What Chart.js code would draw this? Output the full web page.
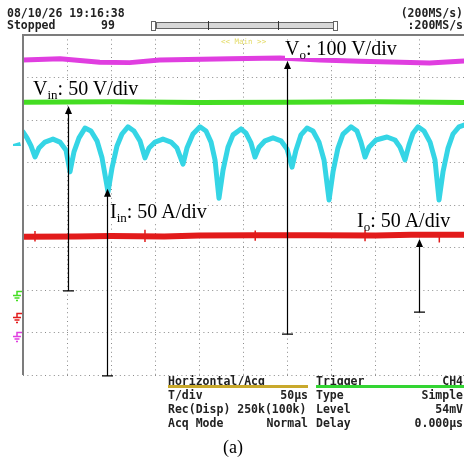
<!DOCTYPE html>
<html>
<head>
<meta charset="utf-8">
<script src="https://cdn.jsdelivr.net/npm/chart.js@4.4.0/dist/chart.umd.min.js"></script>
<style>
body { margin: 0; background: #fff; }
#wrap { position: relative; width: 464px; height: 462px; overflow: hidden; }
#scope { position: absolute; left: 0; top: 0; }
.t { position: absolute; font-family: "DejaVu Sans Mono", monospace; font-weight: bold; font-size: 11.5px; line-height: 12px; color: #222; white-space: pre; }
.lab { position: absolute; font-family: "Liberation Serif", "Times New Roman", serif; font-size: 20px; line-height: 15px; color: #000; background: #fff; white-space: nowrap; }
.lab span { font-size: 13px; position: relative; top: 4px; }
.bar { position: absolute; }
</style>
</head>
<body>
<div id="wrap">
  <canvas id="scope" width="464" height="462"></canvas>

  <div class="t" style="left:7px;top:7px">08/10/26 19:16:38</div>
  <div class="t" style="left:7px;top:19px">Stopped</div>
  <div class="t" style="left:101px;top:19px">99</div>
  <div class="t" style="right:1px;top:7px">(200MS/s)</div>
  <div class="t" style="right:1px;top:19px">:200MS/s</div>

  <div class="bar" style="left:151px;top:21px;width:3px;height:8px;border:1px solid #666;"></div>
  <div class="bar" style="left:156px;top:22px;width:176px;height:5px;border:1px solid #666;background:#d8d8d8;"></div>
  <div class="bar" style="left:333px;top:21px;width:3px;height:8px;border:1px solid #666;"></div>
  <div class="bar" style="left:208px;top:21px;width:1px;height:9px;background:#333;"></div>
  <div class="bar" style="left:278px;top:21px;width:1px;height:9px;background:#333;"></div>

  <div class="t" style="left:221px;top:36px;font-size:7.5px;font-weight:normal;color:#e4dc6a;">&lt;&lt; Main &gt;&gt;</div>

  <div class="lab" style="left:33px;top:81px">V<span>in</span>: 50 V/div</div>
  <div class="lab" style="left:285px;top:41px">V<span>o</span>: 100 V/div</div>
  <div class="lab" style="left:110px;top:204px">I<span>in</span>: 50 A/div</div>
  <div class="lab" style="left:357px;top:213px">I<span>o</span>: 50 A/div</div>

  <div class="t" style="left:168px;top:375px">Horizontal/Acq</div>
  <div class="bar" style="left:168px;top:385px;width:140px;height:3px;background:#c9a92c;"></div>
  <div class="t" style="left:168px;top:389px">T/div</div>
  <div class="t" style="right:156px;top:389px">50µs</div>
  <div class="t" style="left:168px;top:403px">Rec(Disp) 250k(100k)</div>
  <div class="t" style="left:168px;top:417px">Acq Mode</div>
  <div class="t" style="right:156px;top:417px">Normal</div>

  <div class="t" style="left:316px;top:375px">Trigger</div>
  <div class="bar" style="left:316px;top:385px;width:148px;height:3px;background:#33d533;"></div>
  <div class="t" style="right:1px;top:375px">CH4</div>
  <div class="t" style="left:316px;top:389px">Type</div>
  <div class="t" style="right:1px;top:389px">Simple</div>
  <div class="t" style="left:316px;top:403px">Level</div>
  <div class="t" style="right:1px;top:403px">54mV</div>
  <div class="t" style="left:316px;top:417px">Delay</div>
  <div class="t" style="right:1px;top:417px">0.000µs</div>

  <div class="lab" style="left:223px;top:438px;font-size:18px;line-height:18px;background:none">(a)</div>
</div>

<script>
// time in µs (50 µs/div, 10 div), levels in screen divisions (8 div)
var voT = [0, 42, 87, 121, 155, 235, 291, 337, 382, 428, 461, 500];
var voV = [7.41, 7.44, 7.36, 7.35, 7.41, 7.44, 7.46, 7.41, 7.38, 7.36, 7.34, 7.39];

var vinT = [0, 100, 200, 300, 400, 500];
var vinV = [6.42, 6.43, 6.41, 6.42, 6.43, 6.41];

var iinT = [0, 4.5, 9.1, 13.6, 18.1, 24.9, 34.0, 41.9, 48.8, 53.3, 57.8, 63.5, 70.3, 77.1, 83.9, 89.6, 96.4,
  100.9, 106.6, 112.2, 119.0, 125.8, 132.6, 138.3, 142.9, 149.7, 158.7, 167.8, 174.6, 181.4, 185.9, 192.7, 200.7, 207.5, 213.2, 217.7, 222.2,
  226.8, 232.4, 238.1, 247.2, 252.8, 258.5, 263.0, 267.6, 274.4, 283.5, 292.5, 299.3, 305.0, 309.5, 315.2, 322.0, 328.8, 335.6, 341.3, 347.0,
  351.5, 357.1, 362.8, 371.9, 378.7, 383.2, 387.8, 392.3, 400.2, 412.7, 421.8, 427.4, 433.1, 437.6, 442.2, 447.9, 454.7, 461.5, 467.1, 471.7,
  476.2, 481.9, 487.5, 494.3, 500];
var iinV = [5.72, 5.58, 5.39, 5.13, 5.34, 5.48, 5.55, 5.48, 5.29, 4.78, 5.25, 5.58, 5.81, 5.74, 5.51, 5.11, 4.31,
  4.87, 5.39, 5.67, 5.84, 5.74, 5.51, 5.11, 5.34, 5.48, 5.55, 5.48, 5.34, 4.96, 5.34, 5.67, 5.84, 5.74, 5.48, 5.06, 4.16,
  4.82, 5.36, 5.65, 5.79, 5.69, 5.46, 5.13, 5.36, 5.51, 5.58, 5.51, 5.32, 4.89, 5.29, 5.65, 5.81, 5.74, 5.48, 5.06, 4.12,
  4.78, 5.34, 5.67, 5.84, 5.74, 5.48, 5.13, 5.36, 5.53, 5.60, 5.53, 5.36, 5.06, 5.41, 5.69, 5.84, 5.74, 5.48, 5.06, 4.12,
  4.78, 5.34, 5.67, 5.84, 5.88];

var ioT = [0, 60, 100, 160, 200, 260, 330, 400, 440, 500];
var ioV = [3.25, 3.26, 3.27, 3.26, 3.28, 3.29, 3.29, 3.28, 3.30, 3.30];

// short switching spikes on the Io trace: time, low and high level
var spikeT = [13.6, 138.3, 263.3, 387.8, 472];
var spikeLo = [3.14, 3.13, 3.16, 3.15, 3.12];
var spikeHi = [3.39, 3.42, 3.40, 3.42, 3.36];

// ground markers (Vin, Io, Vo) and the Iin offset marker
var groundLevels = [1.98, 1.46, 1.01];
var groundColors = ["#44dd22", "#e21b1b", "#e03ee0"];
var iinMarker = 5.41;

// annotation arrows: time position, start and tip level
var arrowTimes = [51, 299, 95, 449];
var arrowFrom = [1.98, 0.96, -0.02, 1.48];
var arrowTo = [6.33, 7.39, 4.38, 3.2];

function pts(t, v) {
  return t.map(function(x, i) { return { x: x, y: v[i] }; });
}

function spikes() {
  var out = [];
  spikeT.forEach(function(t, i) {
    out.push({ x: t, y: spikeLo[i] }, { x: t, y: spikeHi[i] }, { x: t, y: null });
  });
  return out;
}

var scopeDecor = {
  id: "scopeDecor",
  afterDatasetsDraw: function(chart) {
    var ctx = chart.ctx, a = chart.chartArea, x = chart.scales.x, y = chart.scales.y;
    ctx.save();
    ctx.strokeStyle = "#7c7c7c";
    ctx.lineWidth = 2;
    ctx.beginPath();
    ctx.moveTo(a.left, a.bottom);
    ctx.lineTo(a.left, a.top);
    ctx.lineTo(a.right, a.top);
    ctx.stroke();

    groundLevels.forEach(function(lv, i) {
      var py = Math.round(y.getPixelForValue(lv)) + 0.5;
      var cx = a.left - 6;
      ctx.strokeStyle = groundColors[i];
      ctx.lineWidth = 1.5;
      ctx.beginPath();
      ctx.moveTo(a.left - 1, py); ctx.lineTo(cx, py); ctx.lineTo(cx, py + 4);
      ctx.moveTo(cx - 4, py + 4); ctx.lineTo(cx + 4, py + 4);
      ctx.moveTo(cx - 2.5, py + 6.5); ctx.lineTo(cx + 2.5, py + 6.5);
      ctx.moveTo(cx - 1, py + 9); ctx.lineTo(cx + 1, py + 9);
      ctx.stroke();
    });

    var my = y.getPixelForValue(iinMarker);
    ctx.fillStyle = "#35d5e5";
    ctx.beginPath();
    ctx.moveTo(a.left - 10, my - 1);
    ctx.lineTo(a.left - 3, my - 3);
    ctx.lineTo(a.left - 2, my + 1);
    ctx.lineTo(a.left - 10, my + 1);
    ctx.closePath();
    ctx.fill();

    ctx.strokeStyle = "#000";
    ctx.fillStyle = "#000";
    arrowTimes.forEach(function(t, i) {
      var px = Math.round(x.getPixelForValue(t)) + 0.5;
      var y0 = y.getPixelForValue(arrowFrom[i]);
      var y1 = y.getPixelForValue(arrowTo[i]);
      ctx.lineWidth = 1.2;
      ctx.beginPath();
      ctx.moveTo(px, y0); ctx.lineTo(px, y1 + 6);
      ctx.moveTo(px - 5.5, y0); ctx.lineTo(px + 5.5, y0);
      ctx.stroke();
      ctx.beginPath();
      ctx.moveTo(px, y1); ctx.lineTo(px - 3.5, y1 + 8); ctx.lineTo(px + 3.5, y1 + 8);
      ctx.closePath();
      ctx.fill();
    });
    ctx.restore();
  }
};

var ctx = document.getElementById("scope").getContext("2d");
var chart = new Chart(ctx, {
  type: "scatter",
  data: {
    datasets: [
      { label: "Vo", data: pts(voT, voV), borderColor: "#e03ee0", borderWidth: 5 },
      { label: "Vin", data: pts(vinT, vinV), borderColor: "#44dd22", borderWidth: 5 },
      { label: "Iin", data: pts(iinT, iinV), borderColor: "#35d5e5", borderWidth: 5 },
      { label: "Io", data: pts(ioT, ioV), borderColor: "#e21b1b", borderWidth: 6 },
      { label: "Io spikes", data: spikes(), borderColor: "#e21b1b", borderWidth: 1.5, spanGaps: false, borderCapStyle: "butt" }
    ]
  },
  options: {
    responsive: false,
    animation: false,
    devicePixelRatio: 1,
    layout: { padding: { left: 23, top: 35, right: 0, bottom: 87 } },
    datasets: {
      scatter: { showLine: true, pointRadius: 0, tension: 0, borderJoinStyle: "round", borderCapStyle: "round" }
    },
    scales: {
      x: {
        type: "linear", min: 0, max: 500,
        ticks: { display: false, stepSize: 50 },
        grid: { color: "#8a8a8a", lineWidth: 1, drawTicks: false },
        border: { display: false, dash: [1, 3.4] }
      },
      y: {
        type: "linear", min: 0, max: 8,
        ticks: { display: false, stepSize: 1 },
        grid: { color: "#8a8a8a", lineWidth: 1, drawTicks: false },
        border: { display: false, dash: [1, 3.4] }
      }
    },
    plugins: { legend: { display: false }, tooltip: { enabled: false } }
  },
  plugins: [scopeDecor]
});
</script>
</body>
</html>
